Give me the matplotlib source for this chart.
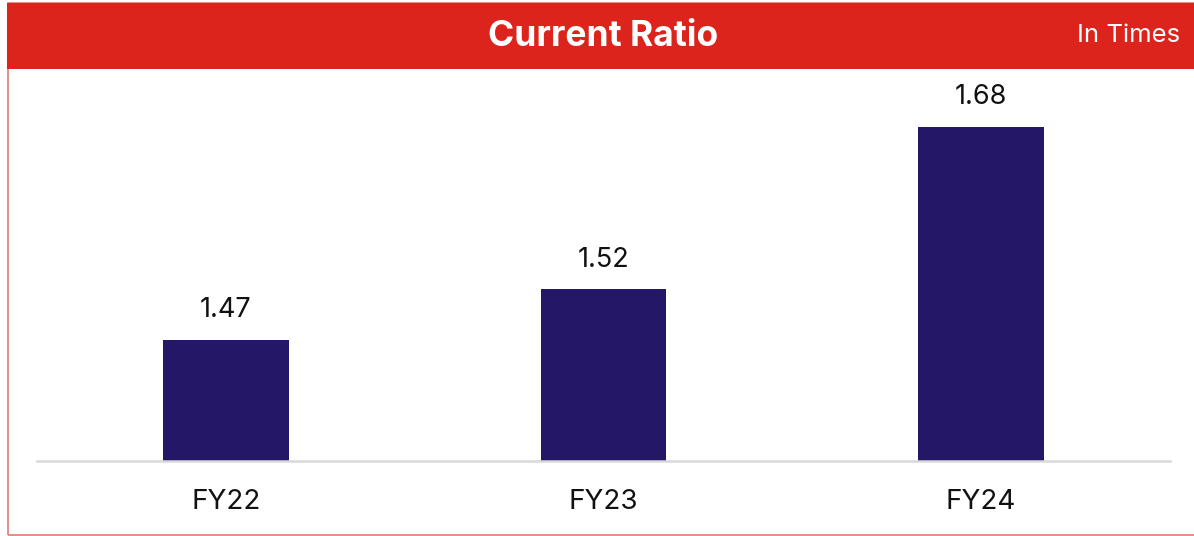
import matplotlib
matplotlib.use("Agg")
import matplotlib.pyplot as plt
from matplotlib.patches import Rectangle

# Current ratio by fiscal year (in times)
years = ["FY22", "FY23", "FY24"]
ratios = [1.47, 1.52, 1.68]

RED = "#DC241C"
NAVY = "#251768"

plt.rcParams["font.family"] = ["Inter", "DejaVu Sans"]

W, H = 1194, 536
fig = plt.figure(figsize=(W / 100, H / 100), dpi=100)

# outer frame and red header band
fig.patches.append(Rectangle((7.5 / W, 1.5 / H), (W - 6) / W, (H - 4) / H,
                             transform=fig.transFigure, fill=False,
                             edgecolor="#E07A76", linewidth=1.2))
fig.patches.append(Rectangle((7 / W, 1 - 69 / H), (W - 7) / W, 66 / H,
                             transform=fig.transFigure, facecolor=RED,
                             edgecolor="none"))
fig.text(603 / W, 1 - 37 / H, "Current Ratio", color="white", fontsize=25.5,
         fontweight="bold", ha="center", va="center")
fig.text(1180 / W, 1 - 36 / H, "In Times", color="white", fontsize=18.5,
         ha="right", va="center")

ax = fig.add_axes([37 / W, 1 - 461 / H, (1170 - 37) / W, (461 - 69) / H])
x = range(len(years))
bars = ax.bar(x, ratios, width=0.333, color=NAVY)
ax.set_xlim(-0.5, 2.5)
ax.set_ylim(1.351, 1.737)

for xi, v in zip(x, ratios):
    ax.annotate(f"{v:.2f}", (xi, v), xytext=(0, 12), textcoords="offset points",
                ha="center", va="bottom", fontsize=19.5, color="#111111")

for s in ["top", "right", "left"]:
    ax.spines[s].set_visible(False)
ax.spines["bottom"].set_color("#D9D9D9")
ax.spines["bottom"].set_linewidth(1.8)
ax.set_yticks([])
ax.set_xticks(list(x))
ax.set_xticklabels(years, fontsize=20, color="#111111")
ax.tick_params(axis="x", length=0, pad=20)

fig.savefig("out.png", dpi=100)
